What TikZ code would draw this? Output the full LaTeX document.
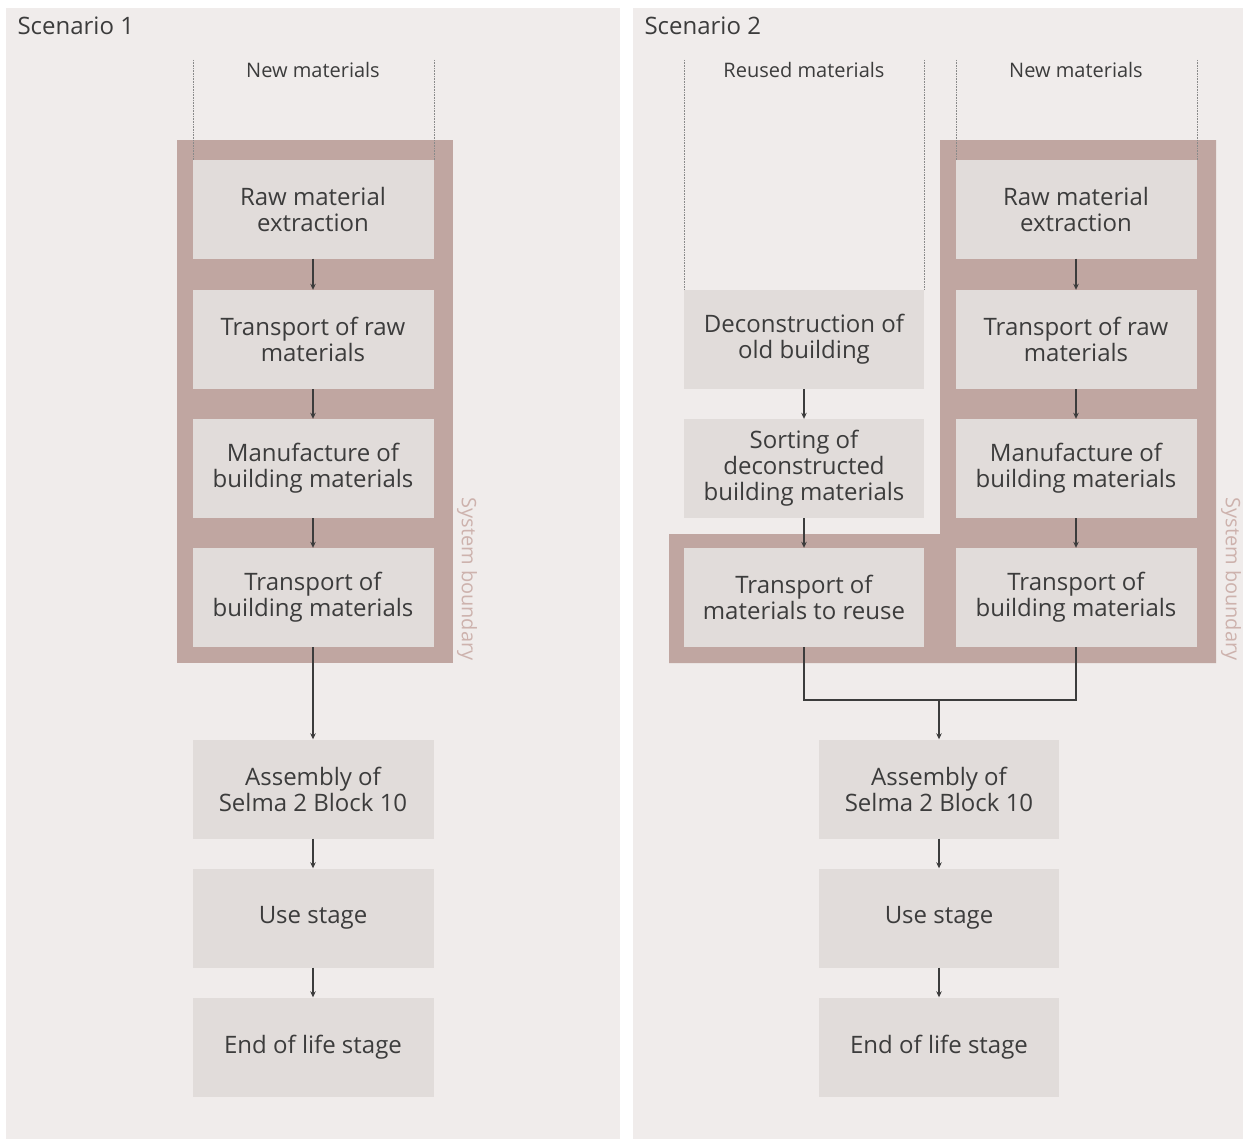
\documentclass[tikz,border=0pt]{standalone}
\usepackage{fontspec}
\setmainfont{Open Sans}
\usetikzlibrary{arrows.meta}

\definecolor{panelbg}{HTML}{F0ECEB}
\definecolor{boxfill}{HTML}{E1DCDA}
\definecolor{bound}{HTML}{C0A6A1}
\definecolor{ink}{HTML}{3C3C3C}
\definecolor{boundtext}{HTML}{CDB2AD}
\definecolor{guidegray}{HTML}{8A8A8A}

\begin{document}
\begin{tikzpicture}[x=1pt,y=-1pt,
  stage/.style={fill=boxfill, minimum width=241pt, minimum height=99pt,
    inner sep=0pt, align=center, text=ink,
    font=\fontsize{24}{26}\selectfont},
  flow/.style={draw=ink, line width=1.5pt, -{Stealth[length=6pt,width=5.5pt]}},
  joint/.style={draw=ink, line width=1.5pt},
  guide/.style={draw=guidegray, densely dotted, line width=0.6pt},
  column/.style={text=ink, font=\fontsize{20}{22}\selectfont},
  title/.style={text=ink, anchor=west, font=\fontsize{24}{26}\selectfont},
  boundlabel/.style={text=boundtext, rotate=-90, font=\fontsize{20}{22}\selectfont}
]
\useasboundingbox (0,0) rectangle (1243,1140);
\fill[white] (0,0) rectangle (1243,1140);

% panels
\fill[panelbg] (6,8) rectangle (620,1139);
\fill[panelbg] (633,8) rectangle (1243,1139);

% ---------- Scenario 1 ----------
\node[title] (t1) at (14,26) {Scenario 1};
\node[column] (nm1) at (313,70) {New materials};

\fill[bound] (177,140) rectangle (453,663);
\draw[guide] (193,60) -- (193,160);
\draw[guide] (434,60) -- (434,160);
\node[boundlabel] (sb1) at (467,579) {System boundary};

\node[stage] (a1) at (313,209)   {Raw material\\extraction};
\node[stage] (a2) at (313,339.5) {Transport of raw\\materials};
\node[stage] (a3) at (313,468.5) {Manufacture of\\building materials};
\node[stage] (a4) at (313,597.5) {Transport of\\building materials};
\node[stage] (a5) at (313,789)   {Assembly of\\Selma 2 Block 10};
\node[stage] (a6) at (313,918)   {Use stage};
\node[stage] (a7) at (313,1047)  {End of life stage};

\draw[flow] (a1) -- (a2);
\draw[flow] (a2) -- (a3);
\draw[flow] (a3) -- (a4);
\draw[flow] (a4) -- (a5);
\draw[flow] (a5) -- (a6);
\draw[flow] (a6) -- (a7);

% ---------- Scenario 2 ----------
\node[title] (t2) at (641,26) {Scenario 2};
\node[column] (rm2) at (804,70) {Reused materials};
\node[column] (nm2) at (1076,70) {New materials};

\fill[bound] (940,140) -- (1216,140) -- (1216,663) -- (669,663)
  -- (669,534) -- (940,534) -- cycle;
\draw[guide] (684,60) -- (684,290);
\draw[guide] (924,60) -- (924,290);
\draw[guide] (956,60) -- (956,160);
\draw[guide] (1197,60) -- (1197,160);
\node[boundlabel] (sb2) at (1231,579) {System boundary};

\node[stage, minimum width=240pt] (r1) at (804,339.5) {Deconstruction of\\old building};
\node[stage, minimum width=240pt] (r2) at (804,468.5) {Sorting of\\deconstructed\\building materials};
\node[stage, minimum width=240pt] (r3) at (804,597.5) {Transport of\\materials to reuse};

\node[stage] (n1) at (1076,209)   {Raw material\\extraction};
\node[stage] (n2) at (1076,339.5) {Transport of raw\\materials};
\node[stage] (n3) at (1076,468.5) {Manufacture of\\building materials};
\node[stage] (n4) at (1076,597.5) {Transport of\\building materials};

\node[stage, minimum width=240pt] (b1) at (939,789)  {Assembly of\\Selma 2 Block 10};
\node[stage, minimum width=240pt] (b2) at (939,918)  {Use stage};
\node[stage, minimum width=240pt] (b3) at (939,1047) {End of life stage};

\draw[flow] (r1) -- (r2);
\draw[flow] (r2) -- (r3);
\draw[flow] (n1) -- (n2);
\draw[flow] (n2) -- (n3);
\draw[flow] (n3) -- (n4);

\coordinate (merge) at (939,700);
\draw[joint] (r3.south) |- (merge) -| (n4.south);
\draw[flow] (merge) -- (b1);
\draw[flow] (b1) -- (b2);
\draw[flow] (b2) -- (b3);
\end{tikzpicture}
\end{document}
